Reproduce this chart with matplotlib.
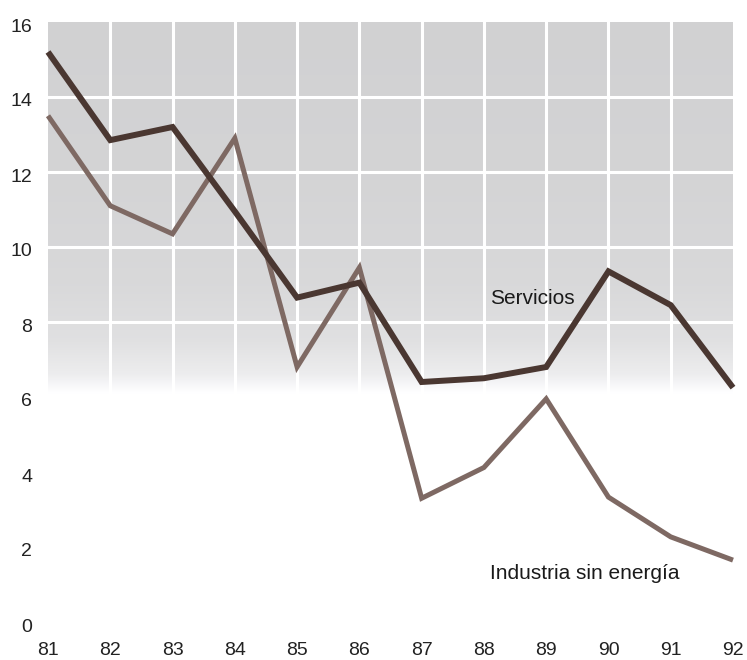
import numpy as np
import matplotlib
matplotlib.use("Agg")
import matplotlib.pyplot as plt
from matplotlib.transforms import ScaledTranslation

plt.rcParams['font.family'] = ['Liberation Sans', 'DejaVu Sans']

years = [81, 82, 83, 84, 85, 86, 87, 88, 89, 90, 91, 92]
servicios = [15.2, 12.85, 13.2, 10.95, 8.65, 9.05, 6.4, 6.5, 6.8, 9.35, 8.45, 6.25]
industria = [13.5, 11.1, 10.35, 12.9, 6.8, 9.45, 3.3, 4.12, 5.95, 3.33, 2.27, 1.65]
year_labels = ["81", "82", "83", "84", "85", "86", "87", "88", "89", "90", "91", "92"]
y_ticks = [0, 2, 4, 6, 8, 10, 12, 14, 16]

fig = plt.figure(figsize=(7.47, 6.6), dpi=100)
ax = fig.add_axes([48 / 747, 38 / 660, 685 / 747, 600 / 660])
ax.set_xlim(81, 92)
ax.set_ylim(0, 16)

# grey panel that fades out to white in the lower part of the chart
ys = np.linspace(16, 0, 640)
lightness = np.interp(ys, [0, 6.1, 6.6, 7.5, 9.0, 12.0, 16.0],
                      [1.0, 1.0, 0.93, 0.88, 0.85, 0.83, 0.82])
col = np.stack([lightness, lightness, lightness + 0.005], axis=-1)
img = np.clip(col[:, None, :].repeat(2, axis=1), 0, 1)
ax.imshow(img, extent=[81, 92.05, 0, 16], aspect='auto',
          interpolation='bilinear', zorder=0)

for x in years[1:-1]:
    ax.axvline(x, color='white', lw=2.2, zorder=1)
for y in y_ticks[1:-1]:
    ax.axhline(y, color='white', lw=2.2, zorder=1)

ax.plot(years, industria, color='#7e6963', lw=3.6, solid_joinstyle='miter',
        solid_capstyle='butt', zorder=3, clip_on=False)
ax.plot(years, servicios, color='#4a3731', lw=4.3, solid_joinstyle='miter',
        solid_capstyle='butt', zorder=4, clip_on=False)

ax.text(88.1, 8.63, "Servicios", fontsize=15, va='center', ha='left', color='#1a1a1a')
ax.text(88.1, 1.3, "Industria sin energía", fontsize=15, va='center', ha='left',
        color='#1a1a1a')

ax.set_xticks(years)
ax.set_xticklabels(year_labels, fontsize=14, color='#222222')
ax.set_yticks(y_ticks)
ax.set_yticklabels([str(v) for v in y_ticks], fontsize=14, color='#222222')
ax.tick_params(axis='both', length=0)
ax.tick_params(axis='x', pad=14.5)
ax.tick_params(axis='y', pad=11.5)
shift_down = ScaledTranslation(0, -3 / 100, fig.dpi_scale_trans)
for lbl in ax.get_yticklabels():
    lbl.set_transform(lbl.get_transform() + shift_down)
for s in ax.spines.values():
    s.set_visible(False)
ax.patch.set_alpha(0)

fig.savefig("out.png", dpi=100)
